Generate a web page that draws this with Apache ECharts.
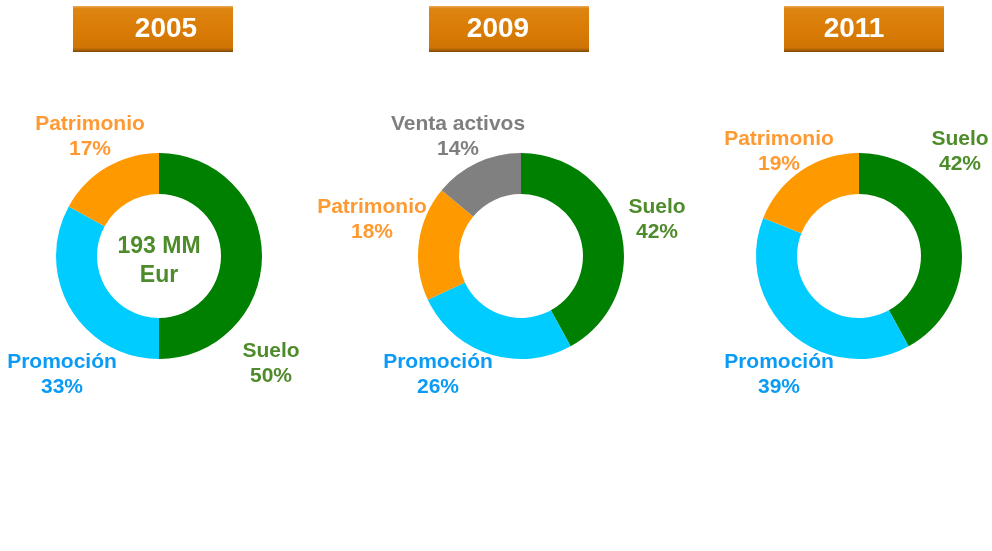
<!DOCTYPE html>
<html><head><meta charset="utf-8">
<script src="https://cdn.jsdelivr.net/npm/echarts@6/dist/echarts.min.js"></script>
<style>html,body{margin:0;padding:0;background:#fff}#c{width:992px;height:551px}</style>
</head><body><div id="c"></div>
<script>
const years = ['2005', '2009', '2011'];
const categories2005 = ['Suelo', 'Promoción', 'Patrimonio'];
const values2005 = [50, 33, 17];
const categories2009 = ['Suelo', 'Promoción', 'Patrimonio', 'Venta activos'];
const values2009 = [42, 26, 18, 14];
const categories2011 = ['Suelo', 'Promoción', 'Patrimonio'];
const values2011 = [42, 39, 19];
const centerNote = '193 MM\nEur';

const sliceColor = {'Suelo':'#008000','Promoción':'#00CCFF','Patrimonio':'#FF9900','Venta activos':'#808080'};
const labelColor = {'Suelo':'#4E8B2B','Promoción':'#0A9BF5','Patrimonio':'#FF9A33','Venta activos':'#7F7F7F'};

// label anchor positions (px) per chart, keyed by category
const labelPos = [
  {'Suelo':[271,364],'Promoción':[62,375],'Patrimonio':[90,137]},
  {'Suelo':[657,220],'Promoción':[438,375],'Patrimonio':[372,220],'Venta activos':[458,137]},
  {'Suelo':[960,152],'Promoción':[779,375],'Patrimonio':[779,152]}
];
const centers = [[159,256],[521,256],[859,256]];
const boxes = [[73,6],[429,6],[784,6]];
const yearTextX = [166,498,854];

const cats = [categories2005, categories2009, categories2011];
const vals = [values2005, values2009, values2011];

const series = cats.map((cs, si) => ({
  type: 'pie',
  center: centers[si],
  radius: [62, 103],
  startAngle: 90,
  clockwise: true,
  silent: true,
  data: cs.map((c, i) => ({
    name: c, value: vals[si][i],
    itemStyle: {color: sliceColor[c]},
    label: {color: labelColor[c]}
  })),
  label: {
    show: true, position: 'inside',
    formatter: '{b}\n{d}%',
    overflow: 'none',
    fontFamily: 'Liberation Sans, Arial, sans-serif',
    fontWeight: 'bold', fontSize: 21, lineHeight: 25, align: 'center'
  },
  labelLine: {show: false},
  labelLayout: function (p) {
    const name = cs[p.dataIndex];
    const pos = labelPos[si][name];
    return {x: pos[0], y: pos[1], align: 'center', verticalAlign: 'middle', hideOverlap: false, moveOverlap: false};
  }
}));

const graphics = [];
boxes.forEach((b, i) => {
  graphics.push({
    type: 'rect', shape: {x: b[0], y: b[1], width: 160, height: 46},
    style: {fill: new echarts.graphic.LinearGradient(0,0,0,1,[
      {offset:0,color:'#EBA95A'},{offset:0.06,color:'#DD840F'},{offset:0.5,color:'#DA7C06'},
      {offset:0.9,color:'#D07504'},{offset:0.96,color:'#A85D05'},{offset:1,color:'#7A4505'}])}
  });
  graphics.push({
    type: 'text', x: yearTextX[i], y: b[1] + 23,
    style: {text: years[i], fill: '#fff', font: 'bold 28px "Liberation Sans", Arial, sans-serif',
      textAlign: 'center', textVerticalAlign: 'middle'}
  });
});
graphics.push({
  type: 'text', x: centers[0][0], y: centers[0][1] + 5,
  style: {text: centerNote, fill: '#4E8B2B', font: 'bold 23px "Liberation Sans", Arial, sans-serif',
    lineHeight: 29, textAlign: 'center', textVerticalAlign: 'middle'}
});

const chart = echarts.init(document.getElementById('c'));
chart.setOption({animation: false, backgroundColor: '#fff', series: series, graphic: graphics});
</script></body></html>
